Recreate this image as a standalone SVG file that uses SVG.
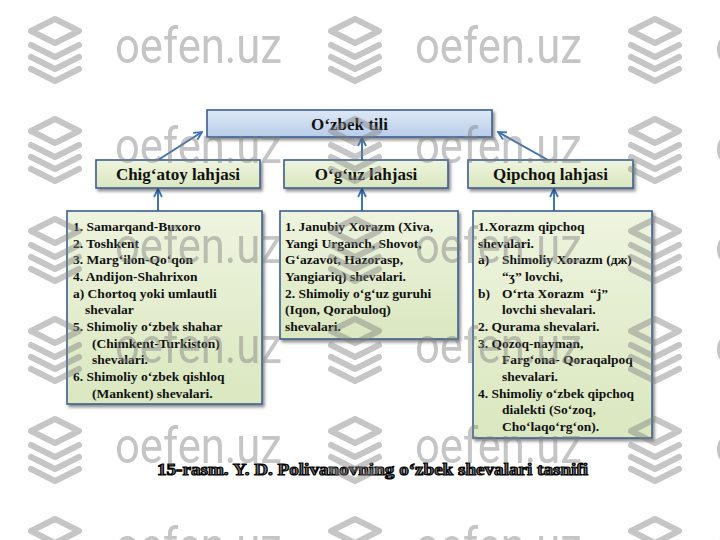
<svg xmlns="http://www.w3.org/2000/svg" xmlns:xlink="http://www.w3.org/1999/xlink" width="720" height="540" viewBox="0 0 720 540">
<style>
.box{stroke:#3b5f8f;stroke-width:1.6;filter:url(#sh)}
.g{fill:url(#gg)}
.b{fill:url(#gb)}
.t{font-family:"Liberation Serif","DejaVu Serif",serif;font-weight:bold;font-size:13.5px;fill:#111}
.h{font-family:"Liberation Serif","DejaVu Serif",serif;font-weight:bold;font-size:17px;fill:#111;text-anchor:middle}
.cn line{stroke:#3d72b4;stroke-width:2;marker-end:url(#ah)}
.wm{fill:#808080;opacity:0.45}
.wml{fill:none;stroke:#808080;stroke-width:6;stroke-linecap:round;stroke-linejoin:round;opacity:0.45}
</style>
<defs>
<linearGradient id="gg" x1="0" y1="0" x2="0" y2="1"><stop offset="0" stop-color="#eef4df"/><stop offset="1" stop-color="#dae7bf"/></linearGradient>
<linearGradient id="gb" x1="0" y1="0" x2="0" y2="1"><stop offset="0" stop-color="#dde8f6"/><stop offset="1" stop-color="#b9cde9"/></linearGradient>
<filter id="sh" x="-10%" y="-10%" width="125%" height="130%"><feDropShadow dx="2" dy="2.5" stdDeviation="1.5" flood-color="#000" flood-opacity="0.45"/></filter>
<marker id="ah" viewBox="0 0 10 10" refX="9" refY="5" markerWidth="10" markerHeight="10" markerUnits="userSpaceOnUse" orient="auto"><path d="M1,1 L9,5 L1,9" fill="none" stroke="#3d72b4" stroke-width="1.8"/></marker>
<g id="wmt">
<path class="wml" d="M55,19 L79,31 L55,43 L31,31 Z M31,45 L55,57 L79,45 M31,57 L55,69 L79,57 M31,69 L55,81 L79,69"/>
<text class="wm" x="115" y="63" font-family="Roboto,'Open Sans',sans-serif" font-size="50" textLength="167" lengthAdjust="spacingAndGlyphs">oefen.uz</text>
</g>
</defs>
<rect width="720" height="540" fill="#fff"/>

<g id="connectors" class="cn">
<line x1="158" y1="160" x2="202" y2="132"/>
<line x1="362" y1="160" x2="362" y2="138"/>
<line x1="548" y1="160" x2="498" y2="132"/>
<line x1="158" y1="211" x2="158" y2="189"/>
<line x1="362" y1="211" x2="362" y2="189"/>
<line x1="554" y1="211" x2="554" y2="189"/>
</g>

<g id="n-ozbek">
<rect class="box b" x="207" y="110" width="285" height="27"/>
<text class="h" x="349.5" y="129.5" font-size="16.5">O‘zbek tili</text>
</g>
<g id="n-chigatoy">
<rect class="box g" x="96" y="160" width="164" height="28"/>
<text class="h" x="178" y="180">Chig‘atoy lahjasi</text>
</g>
<g id="n-oguz">
<rect class="box g" x="284" y="160" width="164" height="28"/>
<text class="h" x="366" y="180">O‘g‘uz lahjasi</text>
</g>
<g id="n-qipchoq">
<rect class="box g" x="468" y="160" width="165" height="28"/>
<text class="h" x="550.5" y="180">Qipchoq lahjasi</text>
</g>

<g id="n-list1">
<rect class="box g" x="67" y="211" width="195" height="193"/>
<text class="t">
<tspan x="73" y="231">1. Samarqand-Buxoro</tspan>
<tspan x="73" y="247.65">2. Toshkent</tspan>
<tspan x="73" y="264.3">3. Marg‘ilon-Qo‘qon</tspan>
<tspan x="73" y="280.95">4. Andijon-Shahrixon</tspan>
<tspan x="73" y="297.6">a) Chortoq yoki umlautli</tspan>
<tspan x="85" y="314.25">shevalar</tspan>
<tspan x="73" y="330.9">5. Shimoliy o‘zbek shahar</tspan>
<tspan x="92" y="347.55">(Chimkent-Turkiston)</tspan>
<tspan x="92" y="364.2">shevalari.</tspan>
<tspan x="73" y="380.85">6. Shimoliy o‘zbek qishloq</tspan>
<tspan x="92" y="397.5">(Mankent) shevalari.</tspan>
</text>
</g>

<g id="n-list2">
<rect class="box g" x="280" y="211" width="178" height="128"/>
<text class="t">
<tspan x="285" y="231">1. Janubiy Xorazm (Xiva,</tspan>
<tspan x="285" y="247.65">Yangi Urganch, Shovot,</tspan>
<tspan x="285" y="264.3">G‘azavot, Hazorasp,</tspan>
<tspan x="285" y="280.95">Yangiariq) shevalari.</tspan>
<tspan x="285" y="297.6">2. Shimoliy o‘g‘uz guruhi</tspan>
<tspan x="285" y="314.25">(Iqon, Qorabuloq)</tspan>
<tspan x="285" y="330.9">shevalari.</tspan>
</text>
</g>

<g id="n-list3">
<rect class="box g" x="473" y="211" width="179" height="227"/>
<text class="t">
<tspan x="478" y="231">1.Xorazm qipchoq</tspan>
<tspan x="478" y="247.65">shevalari.</tspan>
<tspan x="478" y="264.3">a)</tspan><tspan x="502" y="264.3">Shimoliy Xorazm (дж)</tspan>
<tspan x="502" y="280.95">“ʒ” lovchi,</tspan>
<tspan x="478" y="297.6">b)</tspan><tspan x="502" y="297.6">O‘rta Xorazm</tspan><tspan x="590" y="297.6">“j”</tspan>
<tspan x="502" y="314.25">lovchi shevalari.</tspan>
<tspan x="478" y="330.9">2. Qurama  shevalari.</tspan>
<tspan x="478" y="347.55">3. Qozoq-nayman,</tspan>
<tspan x="502" y="364.2">Farg‘ona- Qoraqalpoq</tspan>
<tspan x="502" y="380.85">shevalari.</tspan>
<tspan x="478" y="397.5">4. Shimoliy o‘zbek qipchoq</tspan>
<tspan x="502" y="414.15">dialekti (So‘zoq,</tspan>
<tspan x="502" y="430.8">Cho‘laqo‘rg‘on).</tspan>
</text>
</g>

<g id="caption">
<text x="372.5" y="475" text-anchor="middle" font-family="'Liberation Serif','DejaVu Serif',serif" font-weight="bold" font-size="16.5" fill="#777" stroke="#000" stroke-width="1.1" textLength="431" lengthAdjust="spacingAndGlyphs">15-rasm. Y. D. Polivanovning o‘zbek shevalari tasnifi</text>
</g>

<g id="watermark">
<use xlink:href="#wmt"/><use xlink:href="#wmt" x="300"/><use xlink:href="#wmt" x="600"/>
<use xlink:href="#wmt" y="100"/><use xlink:href="#wmt" x="300" y="100"/><use xlink:href="#wmt" x="600" y="100"/>
<use xlink:href="#wmt" y="200"/><use xlink:href="#wmt" x="300" y="200"/><use xlink:href="#wmt" x="600" y="200"/>
<use xlink:href="#wmt" y="300"/><use xlink:href="#wmt" x="300" y="300"/><use xlink:href="#wmt" x="600" y="300"/>
<use xlink:href="#wmt" y="400"/><use xlink:href="#wmt" x="300" y="400"/><use xlink:href="#wmt" x="600" y="400"/>
<use xlink:href="#wmt" y="500"/><use xlink:href="#wmt" x="300" y="500"/><use xlink:href="#wmt" x="600" y="500"/>
</g>
</svg>
